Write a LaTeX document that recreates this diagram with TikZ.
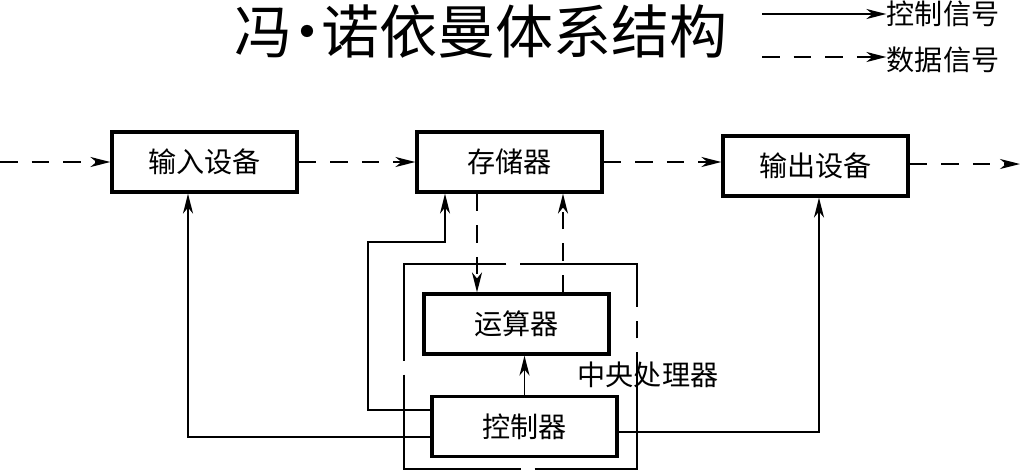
\documentclass[tikz,border=0pt]{standalone}
\usepackage{fontspec}
\newfontfamily\cjk{Noto Sans CJK SC}
\usepackage{tikz}
\usetikzlibrary{arrows.meta}

\tikzset{
    unit/.style={draw, line width=1.8pt, minimum width=3.7cm, minimum height=1.2cm, inner sep=0pt, font=\cjk\fontsize{16}{16}\selectfont},
    ctrl/.style={line width=1.1pt},
    data/.style={line width=1.1pt, dash pattern=on 10pt off 8pt},
    tip/.style={-{Stealth[length=4mm, width=2mm, inset=1.2mm]}}
}

\begin{document}
\begin{tikzpicture}[x=0.02cm, y=-0.02cm]
    \useasboundingbox (0,0) rectangle (1025,471);

    % Title and legend
    \node[font=\cjk\fontsize{33}{33}\selectfont] (title) at (481,32) {冯\kern-0.25em·\kern-0.25em诺依曼体系结构};
    \node[inner sep=0pt, font=\cjk\fontsize{16}{16}\selectfont] (lgctrl) at (943,14) {控制信号};
    \node[inner sep=0pt, font=\cjk\fontsize{16}{16}\selectfont] (lgdata) at (943,60) {数据信号};
    \coordinate (lgc0) at (762,14);
    \coordinate (lgd0) at (762,57);
    \draw[ctrl, tip] (lgc0) -- (lgctrl.west);
    \draw[data, tip] (lgd0) -- (lgd0 -| lgdata.west);

    % Units
    \node[unit] (in) at (204.5,162) {输入设备};
    \node[unit] (mem) at (509.5,162) {存储器};
    \node[unit] (out) at (815.5,166) {输出设备};
    \node[unit] (alu) at (516.5,324) {运算器};
    \node[unit] (ctl) at (524.5,426.5) {控制器};

    % CPU frame
    \draw[ctrl] (492,264) -- (404,264) -- (404,343);
    \draw[data] (404,343) -- (404,390);
    \draw[ctrl] (404,390) -- (404,469) -- (503,469);
    \draw[data] (503,469) -- (540,469);
    \draw[ctrl] (540,469) -- (637,469) -- (637,370);
    \draw[data] (637,370) -- (637,290);
    \draw[ctrl] (637,290) -- (637,264) -- (538,264);
    \draw[data] (538,264) -- (492,264);
    \node[font=\cjk\fontsize{16}{16}\selectfont] (cpu) at (648,375) {中央处理器};

    % Data flow
    \coordinate (src) at (0,162);
    \coordinate (sink) at (1020,164);
    \draw[data, tip] (src) -- (in.west);
    \draw[data, tip] (in.east) -- (mem.west);
    \draw[data, tip] (mem.east) -- (mem.east -| out.west);
    \draw[data, tip] (out.east |- sink) -- (sink);
    \draw[data, tip] ([xshift=-0.65cm]mem.south) -- ([xshift=-0.65cm]mem.south |- alu.north);
    \draw[data, tip] ([xshift=0.93cm]alu.north) -- ([xshift=0.93cm]alu.north |- mem.south);

    % Control lines
    \draw[ctrl, tip] (ctl.north) -- (ctl.north |- alu.south);
    \draw[ctrl, tip] ([yshift=0.33cm]ctl.west) -| (368,242) -| ([xshift=-1.29cm]mem.south);
    \draw[ctrl, tip] ([yshift=-0.21cm]ctl.west) -| ([xshift=-0.33cm]in.south);
    \draw[ctrl, tip] ([yshift=-0.11cm]ctl.east) -| ([xshift=0.07cm]out.south);
\end{tikzpicture}
\end{document}
